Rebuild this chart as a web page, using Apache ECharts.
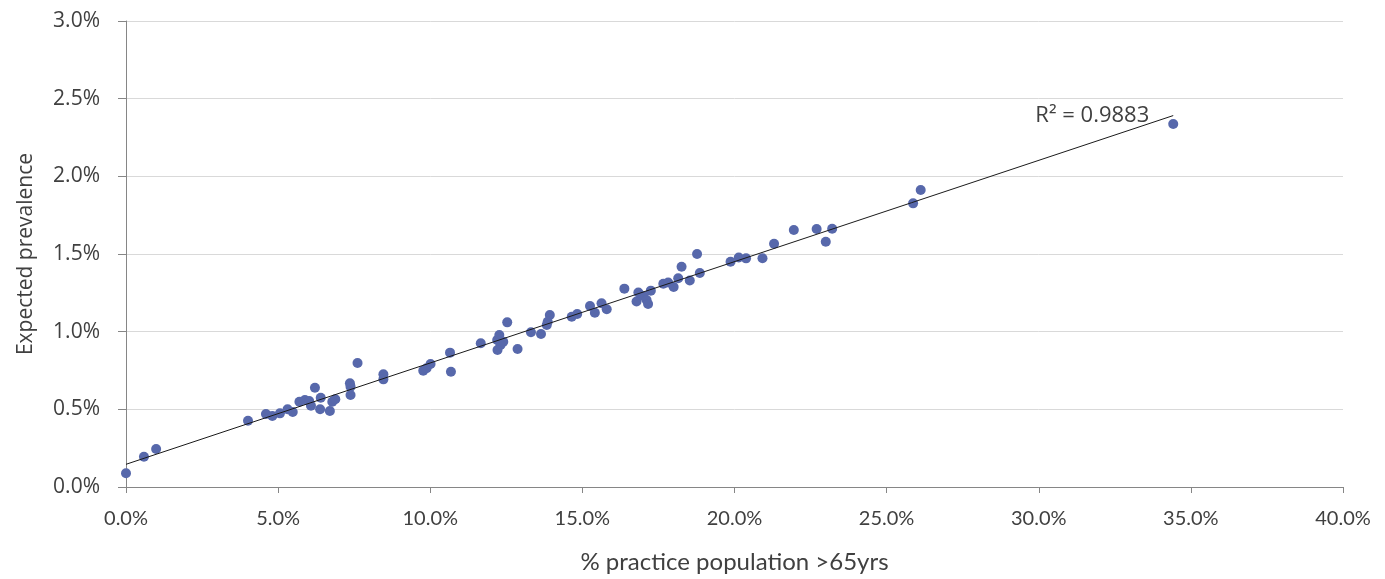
<!DOCTYPE html>
<html>
<head>
<meta charset="utf-8">
<title>Expected prevalence vs % practice population >65yrs</title>
<script src="https://cdn.jsdelivr.net/npm/echarts@6/dist/echarts.min.js"></script>
<style>
  html, body { margin: 0; padding: 0; background: #ffffff; }
  #chart { width: 1385px; height: 579px; }
</style>
</head>
<body>
<div id="chart"></div>
<script>
// Practice share of patients aged over 65 (%)
const over65Pct = [
  0.0, 0.59, 0.99, 4.01, 4.60, 4.81, 5.06, 5.31, 5.48, 5.70,
  5.88, 6.02, 6.08, 6.21, 6.38, 6.40, 6.70, 6.78, 6.88, 7.36,
  7.38, 7.38, 7.61, 8.46, 8.46, 9.77, 9.88, 10.01, 10.65, 10.68,
  11.66, 12.20, 12.27, 12.40, 12.31, 12.21, 12.53, 12.87, 13.31, 13.64,
  13.93, 13.86, 13.83, 14.65, 14.83, 15.25, 15.41, 15.63, 15.80, 16.38,
  16.78, 16.84, 17.00, 17.11, 17.16, 17.25, 17.66, 17.82, 18.00, 18.15,
  18.26, 18.53, 18.77, 18.86, 19.87, 20.14, 20.38, 20.92, 21.30, 21.95,
  22.70, 23.00, 23.21, 25.87, 26.12, 34.42
];

// Expected prevalence for the same practices (%)
const prevalencePct = [
  0.088, 0.195, 0.245, 0.427, 0.470, 0.457, 0.474, 0.500, 0.483, 0.549,
  0.560, 0.554, 0.523, 0.639, 0.500, 0.575, 0.489, 0.549, 0.565, 0.668,
  0.646, 0.592, 0.798, 0.726, 0.693, 0.749, 0.764, 0.792, 0.865, 0.742,
  0.925, 0.946, 0.979, 0.935, 0.914, 0.882, 1.060, 0.888, 0.996, 0.985,
  1.107, 1.064, 1.043, 1.096, 1.114, 1.165, 1.122, 1.183, 1.144, 1.277,
  1.194, 1.252, 1.230, 1.204, 1.178, 1.264, 1.309, 1.317, 1.288, 1.344,
  1.418, 1.329, 1.500, 1.378, 1.450, 1.478, 1.472, 1.473, 1.566, 1.655,
  1.661, 1.579, 1.662, 1.826, 1.912, 2.337
];

const xTicks = [0, 5, 10, 15, 20, 25, 30, 35, 40];
const yTicks = [0, 0.5, 1.0, 1.5, 2.0, 2.5, 3.0];
const rSquaredText = 'R\u00B2 = 0.9883';

const points = over65Pct.map((x, i) => [x, prevalencePct[i]]);

// Ordinary least-squares fit for the trend line
const n = points.length;
let sx = 0, sy = 0, sxx = 0, sxy = 0;
points.forEach(([x, y]) => { sx += x; sy += y; sxx += x * x; sxy += x * y; });
const slope = (n * sxy - sx * sy) / (n * sxx - sx * sx);
const intercept = (sy - slope * sx) / n;
const xMinData = Math.min(...over65Pct);
const xMaxData = Math.max(...over65Pct);

const textColor = '#404040';

const trend = [
  [xMinData, intercept + slope * xMinData],
  {
    value: [xMaxData, intercept + slope * xMaxData],
    label: {
      show: true,
      position: 'left',
      distance: 24,
      formatter: rSquaredText,
      fontFamily: 'Open Sans',
      fontSize: 22,
      color: textColor
    }
  }
];

const chart = echarts.init(document.getElementById('chart'), null, { renderer: 'canvas' });
chart.setOption({
  animation: false,
  backgroundColor: '#ffffff',
  grid: { left: 126, right: 42, top: 21, bottom: 92 },
  xAxis: {
    type: 'value',
    min: xTicks[0],
    max: xTicks[xTicks.length - 1],
    interval: xTicks[1] - xTicks[0],
    name: '% practice population >65yrs',
    nameLocation: 'middle',
    nameGap: 63,
    nameTextStyle: { fontFamily: 'Lato', fontSize: 24, color: textColor },
    axisLine: { show: true, lineStyle: { color: '#868686', width: 1 } },
    axisTick: { show: true, length: 6, inside: false, lineStyle: { color: '#868686' } },
    axisLabel: {
      margin: 22,
      fontFamily: 'Lato',
      fontSize: 20,
      color: textColor,
      formatter: v => v.toFixed(1) + '%'
    },
    splitLine: { show: false }
  },
  yAxis: {
    type: 'value',
    min: yTicks[0],
    max: yTicks[yTicks.length - 1],
    interval: yTicks[1] - yTicks[0],
    name: 'Expected prevalence',
    nameLocation: 'middle',
    nameGap: 89,
    nameTextStyle: { fontFamily: 'Open Sans', fontSize: 21, color: textColor },
    axisLine: { show: true, lineStyle: { color: '#868686', width: 1 } },
    axisTick: { show: true, length: 8, inside: false, lineStyle: { color: '#868686' } },
    axisLabel: {
      margin: 26,
      fontFamily: 'Open Sans',
      fontSize: 21,
      color: textColor,
      formatter: v => v.toFixed(1) + '%'
    },
    splitLine: { show: true, lineStyle: { color: '#D9D9D9', width: 1 } }
  },
  series: [
    {
      name: 'Practices',
      type: 'scatter',
      data: points,
      symbol: 'circle',
      symbolSize: 10,
      itemStyle: { color: '#5768AB', opacity: 1 },
      z: 3
    },
    {
      name: 'Linear trend',
      type: 'line',
      data: trend,
      showSymbol: true,
      symbol: 'circle',
      symbolSize: 0,
      itemStyle: { color: '#1a1a1a' },
      lineStyle: { color: '#1a1a1a', width: 1 },
      silent: true,
      z: 4
    }
  ]
});
</script>
</body>
</html>
